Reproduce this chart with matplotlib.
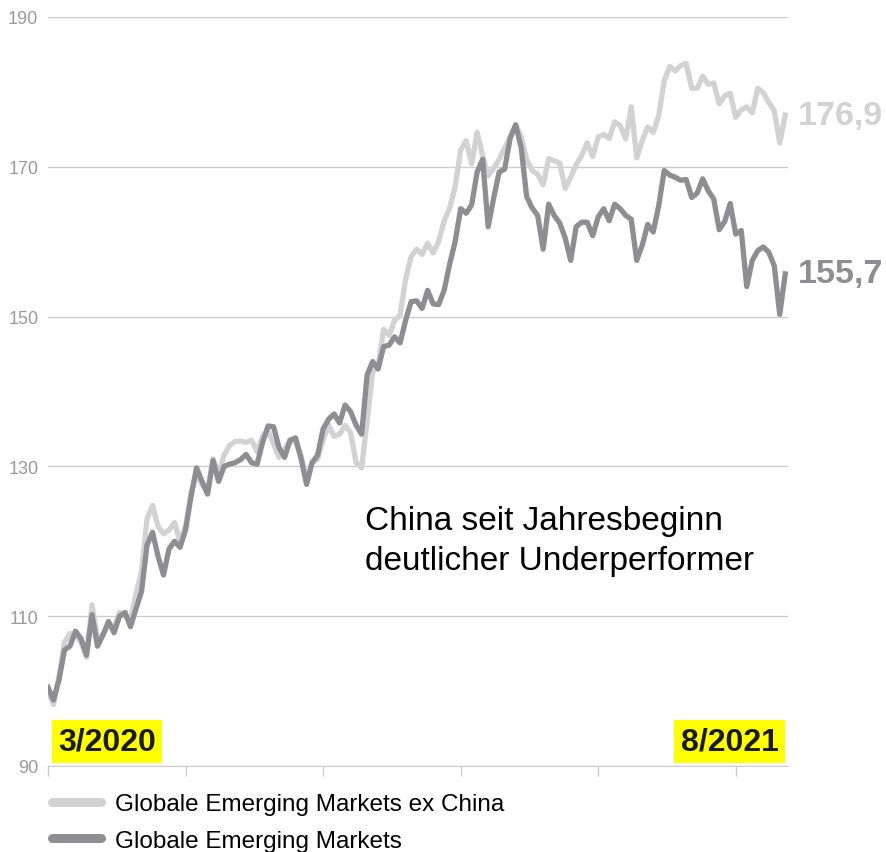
import matplotlib.pyplot as plt
from matplotlib.lines import Line2D

plt.rcParams['font.family'] = ['Liberation Sans', 'DejaVu Sans']

# Indexwerte (Start = 100)
em_ex_china = [
    100.0, 98.2, 102.0, 106.5, 107.7, 107.5, 106.5, 104.5, 111.5, 107.0,
    107.5, 109.0, 108.5, 110.5, 110.0, 109.5, 113.0, 116.0, 123.0, 124.8,
    122.0, 121.0, 121.5, 122.5, 120.0, 122.0, 126.5, 129.0, 127.5, 126.8,
    131.0, 129.0, 131.5, 132.8, 133.3, 133.4, 133.2, 133.5, 132.0, 134.0,
    134.8, 133.0, 131.2, 132.3, 133.5, 133.2, 131.5, 128.2, 130.5, 131.0,
    133.5, 135.5, 134.0, 134.3, 135.5, 134.5, 130.5, 129.8, 136.0, 142.5,
    143.5, 148.3, 147.5, 149.5, 150.2, 155.0, 158.0, 159.0, 158.3, 159.8,
    158.5, 160.0, 162.8, 164.5, 167.3, 172.2, 173.5, 170.4, 174.6, 171.5,
    168.8, 169.8, 171.0, 172.5, 174.0, 175.6, 174.0, 171.0, 169.5, 169.0,
    167.6, 171.1, 170.8, 170.5, 167.1, 168.6, 170.3, 171.5, 173.2, 171.4,
    174.0, 174.3, 173.8, 176.0, 175.5, 173.7, 178.0, 171.2, 173.5, 175.3,
    174.6, 176.8, 181.5, 183.4, 182.8, 183.5, 183.8, 180.5, 180.5, 182.1,
    181.0, 181.2, 178.4, 179.5, 179.8, 176.6, 177.6, 178.0, 177.2, 180.5,
    179.9, 178.6, 177.5, 173.2, 176.9,
]
em_total = [
    100.5, 98.8, 101.5, 105.5, 106.0, 108.0, 107.0, 104.8, 110.2, 106.0,
    107.5, 109.3, 107.8, 110.0, 110.5, 108.6, 111.0, 113.3, 119.5, 121.2,
    118.0, 115.5, 119.0, 120.0, 119.2, 121.5, 126.0, 129.8, 128.0, 126.3,
    130.8, 128.0, 130.0, 130.3, 130.5, 130.9, 131.6, 130.5, 130.3, 133.2,
    135.4, 135.3, 132.5, 131.2, 133.5, 133.8, 131.0, 127.6, 130.5, 131.5,
    135.0, 136.3, 137.0, 135.8, 138.2, 137.3, 135.5, 134.3, 142.2, 144.0,
    143.0, 146.0, 146.2, 147.3, 146.5, 149.5, 152.0, 152.1, 151.1, 153.5,
    151.7, 151.6, 153.5, 157.0, 160.0, 164.4, 163.8, 164.9, 169.3, 171.0,
    162.0, 165.8, 169.3, 169.7, 173.8, 175.6, 172.6, 166.0, 164.5, 163.5,
    159.0, 165.0, 163.5, 162.5, 160.5, 157.5, 162.0, 162.6, 162.6, 160.8,
    163.3, 164.4, 162.8, 165.0, 164.4, 163.5, 163.0, 157.5, 159.5, 162.3,
    161.3, 164.8, 169.5, 168.9, 168.6, 168.2, 168.3, 165.9, 166.5, 168.4,
    166.8, 165.7, 161.6, 162.7, 165.1, 161.0, 161.5, 154.0, 157.5, 158.8,
    159.3, 158.6, 156.8, 150.3, 155.7,
]
labels = ["Globale Emerging Markets ex China", "Globale Emerging Markets"]
colors = ["#d2d2d2", "#8e8e92"]
last_labels = ["176,9", "155,7"]
start_label = "3/2020"
end_label = "8/2021"
annotation = "China seit Jahresbeginn\ndeutlicher Underperformer"

x = list(range(len(em_total)))

fig = plt.figure(figsize=(8.87, 8.53), dpi=100)
ax = fig.add_axes([48 / 887, 1 - 767 / 853, 740 / 887, 749 / 853])

ax.plot(x, em_ex_china, color=colors[0], lw=3.8, solid_joinstyle='round', zorder=3)
ax.plot(x, em_total, color=colors[1], lw=3.8, solid_joinstyle='round', zorder=4)

ax.set_xlim(0, 134.5)
ax.set_ylim(90, 190)
ax.set_yticks([90, 110, 130, 150, 170, 190])
ax.set_xticks([0, 25, 50, 75, 100, 125])
ax.set_xticklabels([])
ax.grid(axis='y', color='#cccccc', lw=1)
ax.tick_params(axis='y', length=0, pad=7, labelsize=13, labelcolor='#999999')
ax.tick_params(axis='x', length=7, width=1, color='#cccccc', direction='out')
for side in ['left', 'right', 'top']:
    ax.spines[side].set_visible(False)
ax.spines['bottom'].set_color('#cccccc')

# Endwerte rechts
for series, txt, c in zip([em_ex_china, em_total], last_labels, colors):
    ax.annotate(txt, xy=(x[-1], series[-1]), xytext=(9, 0), textcoords='offset points',
                va='center', ha='left', fontsize=24.5, fontweight='bold', color=c,
                annotation_clip=False)

# Zeitraum-Markierungen
box = dict(facecolor='#ffff00', edgecolor='none', pad=4.5)
ax.text(0.0135, 0.0325, start_label, transform=ax.transAxes, ha='left', va='center',
        fontsize=23, fontweight='bold', color='#1a1a1a', bbox=box)
ax.text(0.9875, 0.0325, end_label, transform=ax.transAxes, ha='right', va='center',
        fontsize=23, fontweight='bold', color='#1a1a1a', bbox=box)

ax.text(0.428, 0.348, annotation, transform=ax.transAxes, ha='left', va='top',
        fontsize=24, color='black', linespacing=1.38)

handles = [Line2D([0], [0], color=c, lw=6.5, solid_capstyle='round') for c in colors]
fig.legend(handles, labels, loc='upper left', bbox_to_anchor=(52 / 887, 1 - 794 / 853),
           frameon=False, fontsize=17.5, handlelength=2.0, handletextpad=0.6,
           labelspacing=0.6, borderpad=0, borderaxespad=0)

fig.savefig('out.png', dpi=100, facecolor='white')
